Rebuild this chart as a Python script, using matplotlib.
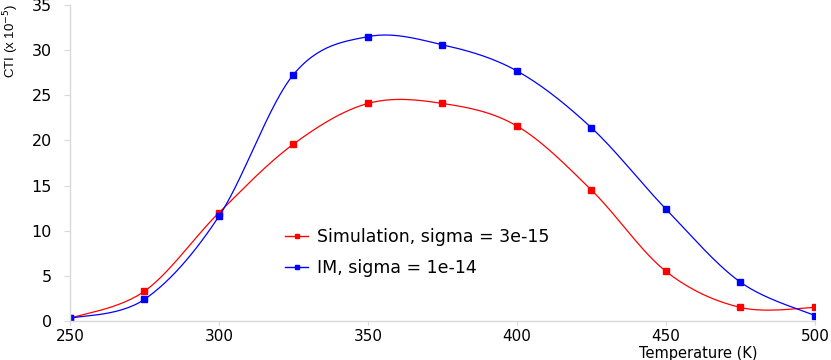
import numpy as np
import matplotlib as mpl
mpl.use('Agg')
import matplotlib.pyplot as plt

plt.rcParams['font.family'] = ['DejaVu Sans']

# Data
temperature = [250, 275, 300, 325, 350, 375, 400, 425, 450, 475, 500]
cti_sim = [0.3, 3.3, 12.0, 19.6, 24.1, 24.1, 21.6, 14.5, 5.5, 1.5, 1.5]
cti_im = [0.3, 2.4, 11.6, 27.3, 31.5, 30.6, 27.7, 21.4, 12.4, 4.3, 0.6]

label_sim = "Simulation, sigma = 3e-15"
label_im = "IM, sigma = 1e-14"


def smooth_line(x, y, n=30):
    # Excel-style smoothed line: cubic Bezier through the points (Catmull-Rom)
    x = np.asarray(x, float)
    y = np.asarray(y, float)
    px = np.concatenate([[x[0]], x, [x[-1]]])
    py = np.concatenate([[y[0]], y, [y[-1]]])
    t = np.linspace(0, 1, n)[:, None]
    xs, ys = [], []
    for i in range(1, len(px) - 2):
        p0 = np.array([px[i], py[i]])
        p3 = np.array([px[i + 1], py[i + 1]])
        c1 = p0 + (np.array([px[i + 1], py[i + 1]]) - np.array([px[i - 1], py[i - 1]])) / 6
        c2 = p3 - (np.array([px[i + 2], py[i + 2]]) - np.array([px[i], py[i]])) / 6
        pts = ((1 - t) ** 3) * p0 + 3 * ((1 - t) ** 2) * t * c1 + 3 * (1 - t) * t ** 2 * c2 + t ** 3 * p3
        xs.append(pts[:, 0])
        ys.append(pts[:, 1])
    return np.concatenate(xs), np.concatenate(ys)


fig = plt.figure(figsize=(8.31, 3.6), dpi=100)
ax = fig.add_axes([0.0842, 0.1083, 0.8965, 0.8777])

for yv, col, lab in [(cti_sim, "#ff0000", label_sim), (cti_im, "#0000ff", label_im)]:
    sx, sy = smooth_line(temperature, yv)
    ax.plot(sx, sy, color=col, linewidth=0.9)
    ax.plot(temperature, yv, linestyle="none", marker="s", markersize=4.5,
            color=col)
    # legend proxy
    ax.plot([], [], color=col, linewidth=1.0, marker="s", markersize=3.5, label=lab)

ax.set_xlim(250, 500)
ax.set_ylim(0, 35)
ax.set_xticks(np.arange(250, 501, 50))
ax.set_yticks(np.arange(0, 36, 5))

for s in ["top", "right"]:
    ax.spines[s].set_visible(False)
for s in ["left", "bottom"]:
    ax.spines[s].set_color("#d9d9d9")
    ax.spines[s].set_linewidth(1.0)
ax.tick_params(axis="both", direction="out", length=4, color="#d9d9d9",
               labelsize=11.5)
ax.tick_params(axis="y", pad=9)
ax.tick_params(axis="x", length=3, pad=2.5, labelsize=11)

ax.set_xlabel("Temperature (K)", fontsize=10.5)
ax.xaxis.set_label_coords(0.844, -0.078)
ax.set_ylabel("CTI (x 10$^{-5}$)", fontsize=9.5, family="Liberation Sans")
ax.yaxis.set_label_coords(-0.066, 0.885)

ax.legend(loc="upper left", bbox_to_anchor=(0.268, 0.345), frameon=False,
          fontsize=12.5, handlelength=1.3, labelspacing=0.75, handletextpad=0.55)

fig.savefig("out.png", dpi=100)
